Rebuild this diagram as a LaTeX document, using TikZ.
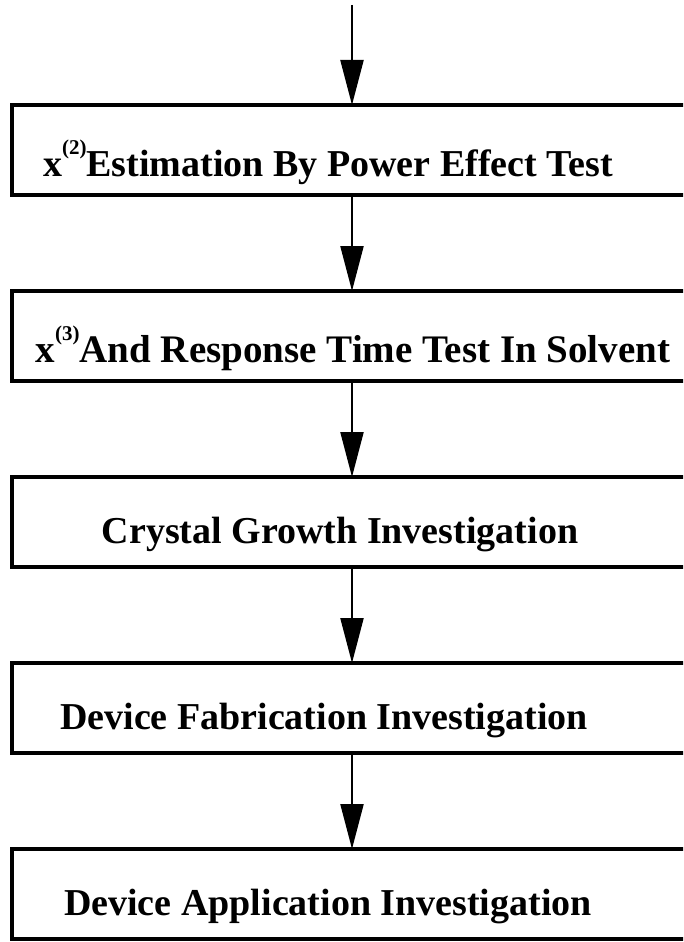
\documentclass[tikz,border=0pt]{standalone}
\usepackage{fontspec}
\setmainfont{Liberation Serif}
\usetikzlibrary{positioning,arrows.meta}

\tikzset{
  stagebox/.style={draw,line width=3.4pt,minimum width=680pt,minimum height=90pt,outer sep=0pt,inner sep=0pt},
  stagetext/.style={font=\fontsize{38}{44}\selectfont\bfseries,anchor=base,yshift=-12.5pt},
  flow/.style={->,line width=2.2pt}
}
\newcommand{\chiorder}[1]{x\raisebox{22pt}{\fontsize{21}{22}\selectfont(#1)}}

\begin{document}
\begin{tikzpicture}[x=1pt,y=-1pt,>={Triangle[length=45pt,width=23pt]},node distance=96pt]
\clip (0,0) rectangle (683,942);
\coordinate (start) at (352,5);
\node[stagebox,label={[stagetext,xshift=-24pt]center:\chiorder{2}Estimation By Power Effect Test}] (est) at (352,150) {};
\node[stagebox,below=of est,label={[stagetext,xshift=1pt,font=\fontsize{39}{44}\selectfont\bfseries]center:\chiorder{3}And Response Time Test In Solvent}] (resp) {};
\node[stagebox,below=of resp,label={[stagetext,xshift=-12pt]center:Crystal Growth Investigation}] (cryst) {};
\node[stagebox,below=of cryst,label={[stagetext,xshift=-28pt]center:Device Fabrication Investigation}] (fab) {};
\node[stagebox,below=of fab,label={[stagetext,xshift=-24pt]center:Device Application Investigation}] (app) {};
\draw[flow] (start) -- (est);
\draw[flow] (est) -- (resp);
\draw[flow] (resp) -- (cryst);
\draw[flow] (cryst) -- (fab);
\draw[flow] (fab) -- (app);
\end{tikzpicture}
\end{document}
